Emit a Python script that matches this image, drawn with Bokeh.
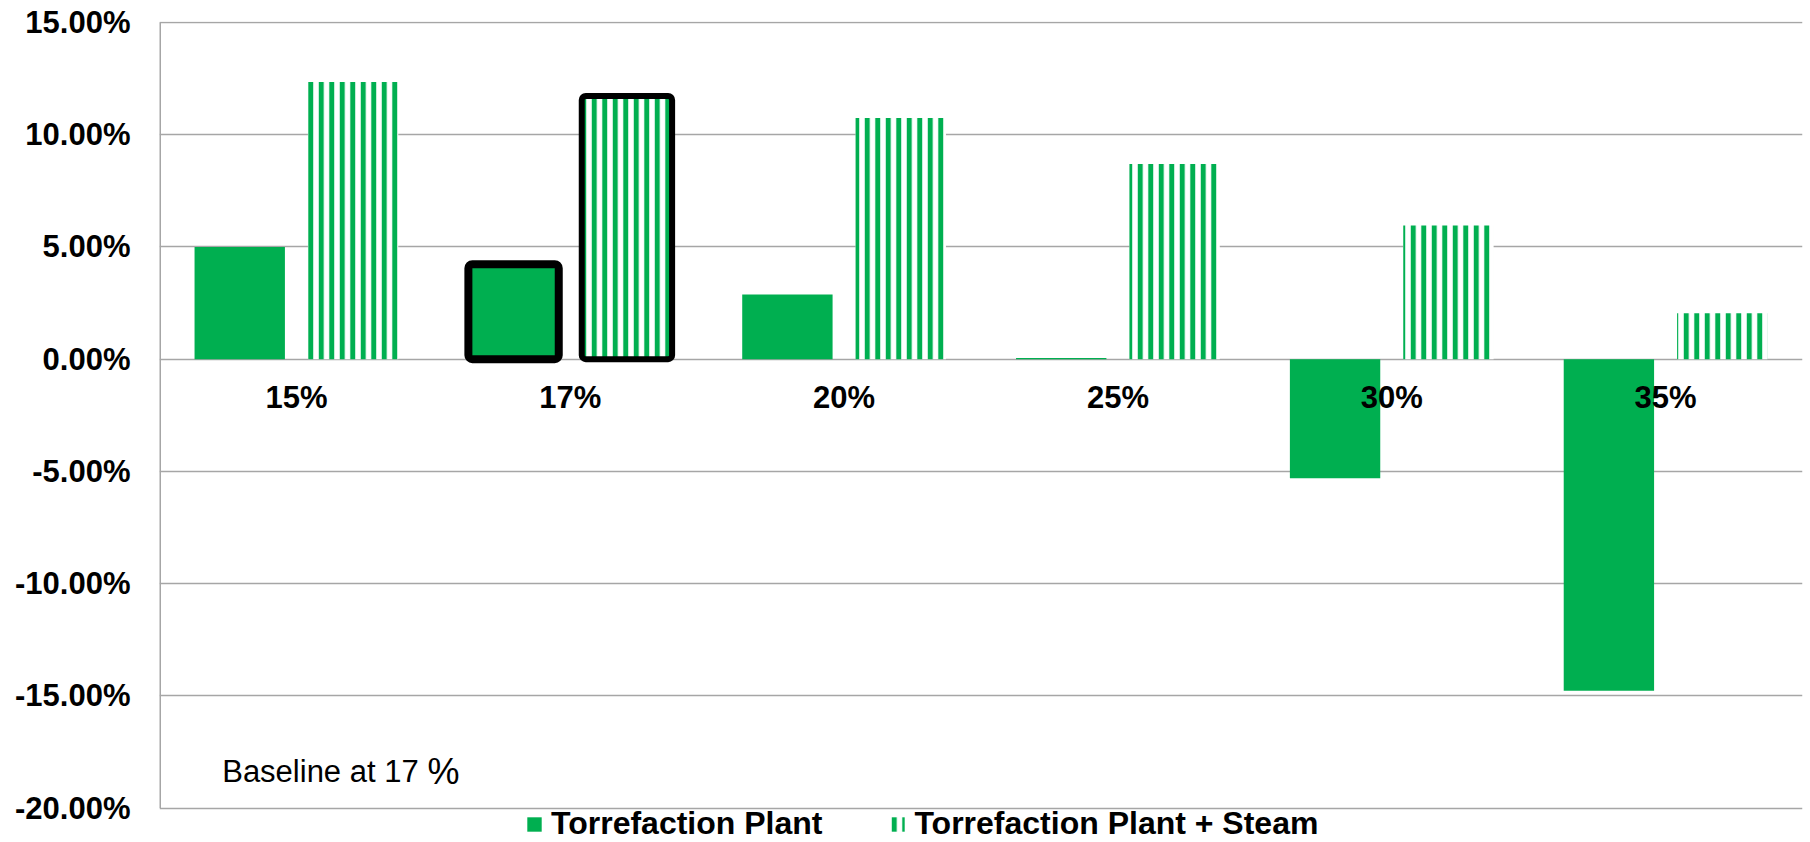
from bokeh.plotting import figure
from bokeh.models import (FactorRange, Range1d, FixedTicker, NumeralTickFormatter,
                          Legend, LegendItem, Label, ColumnDataSource)
from bokeh.transform import dodge
from bokeh.core.properties import value
from bokeh.embed import file_html
from bokeh.resources import INLINE

# ---- data ----
categories = ["15%", "17%", "20%", "25%", "30%", "35%"]
plant = [0.0500, 0.0423, 0.0288, 0.0005, -0.0531, -0.1478]
plant_steam = [0.1235, 0.1173, 0.1074, 0.0869, 0.0596, 0.0205]
y_ticks = [-0.20, -0.15, -0.10, -0.05, 0.0, 0.05, 0.10, 0.15]
series_names = ["Torrefaction Plant", "Torrefaction Plant + Steam"]
baseline_category = "17%"
baseline_text = "Baseline at 17 "
baseline_pct = "%"

GREEN = "#00AF50"
GRID = "#A6A6A6"
FONT = "Liberation Sans"

src = ColumnDataSource(dict(cat=categories, plant=plant, steam=plant_steam))
hi = categories.index(baseline_category)
hl_src = ColumnDataSource(dict(cat=[baseline_category], plant=[plant[hi]], steam=[plant_steam[hi]]))

y_lo, y_hi = min(y_ticks), max(y_ticks)
# frame extends below the lowest tick to hold the legend
p = figure(width=1810, height=842,
           x_range=FactorRange(factors=categories, range_padding=0),
           y_range=Range1d(y_lo - 0.01537, y_hi + 0.00045),
           output_backend="svg", toolbar_location=None,
           x_axis_location=None,
           min_border_left=159, min_border_right=8,
           min_border_top=21, min_border_bottom=0)
p.outline_line_color = None
p.background_fill_color = "white"

# y axis
ax = p.yaxis[0]
ax.ticker = FixedTicker(ticks=y_ticks)
ax.formatter = NumeralTickFormatter(format="0.00%")
ax.axis_line_color = None
ax.major_tick_line_color = None
ax.minor_tick_line_color = None
ax.major_tick_out = 0
ax.major_tick_in = 0
ax.major_label_standoff = 29
ax.major_label_text_font = FONT
ax.major_label_text_font_style = "bold"
ax.major_label_text_font_size = "31px"
ax.major_label_text_color = "black"

p.ygrid.ticker = FixedTicker(ticks=y_ticks)
p.ygrid.grid_line_color = GRID
p.ygrid.grid_line_width = 1.5
p.xgrid.visible = False

# axis line (from lowest to highest tick)
p.segment(x0=[0], y0=[y_lo], x1=[0], y1=[y_hi], line_color=GRID, line_width=3)

solid = p.vbar(x=dodge("cat", -0.207, range=p.x_range), top="plant", width=0.33,
               source=src, fill_color=GREEN, line_color=None)
hatch = p.vbar(x=dodge("cat", 0.207, range=p.x_range), top="steam", width=0.33,
               source=src, fill_color="white", line_color=None,
               hatch_pattern="vertical_line", hatch_color=GREEN,
               hatch_scale=10.5, hatch_weight=5)

# highlight of baseline bars
p.vbar(x=dodge("cat", -0.207, range=p.x_range), top="plant", width=0.33,
       source=hl_src, fill_color=None, line_color="black", line_width=8,
       line_join="round", border_radius=4)
p.vbar(x=dodge("cat", 0.207, range=p.x_range), top="steam", width=0.33,
       source=hl_src, fill_color=None, line_color="black", line_width=6,
       line_join="round", border_radius=4)

# category labels along zero line
p.text(x="cat", y=0, text="cat", source=src, text_font=value(FONT),
       text_font_style="bold", text_font_size="31px", text_align="center",
       text_baseline="middle", y_offset=38, text_color="black")

# baseline note (y measured from bottom of frame)
p.add_layout(Label(x=62.7, y=71, x_units="screen", y_units="screen",
                   text=baseline_text, text_font=FONT, text_font_size="31px",
                   text_baseline="alphabetic", text_color="black"))
p.add_layout(Label(x=268, y=71, x_units="screen", y_units="screen",
                   text=baseline_pct, text_font=FONT, text_font_size="36px",
                   text_baseline="alphabetic", text_color="black"))

legend = Legend(items=[LegendItem(label=series_names[0], renderers=[solid]),
                       LegendItem(label=series_names[1], renderers=[hatch])],
                orientation="horizontal", location=(366, 0),
                glyph_width=18, glyph_height=18, label_standoff=8, spacing=66,
                padding=0, margin=0, border_line_color=None,
                background_fill_alpha=0,
                label_text_font=FONT, label_text_font_style="bold",
                label_text_font_size="32px", label_text_color="black")
p.add_layout(legend, "center")

open("out.html", "w").write(file_html(p, INLINE))
